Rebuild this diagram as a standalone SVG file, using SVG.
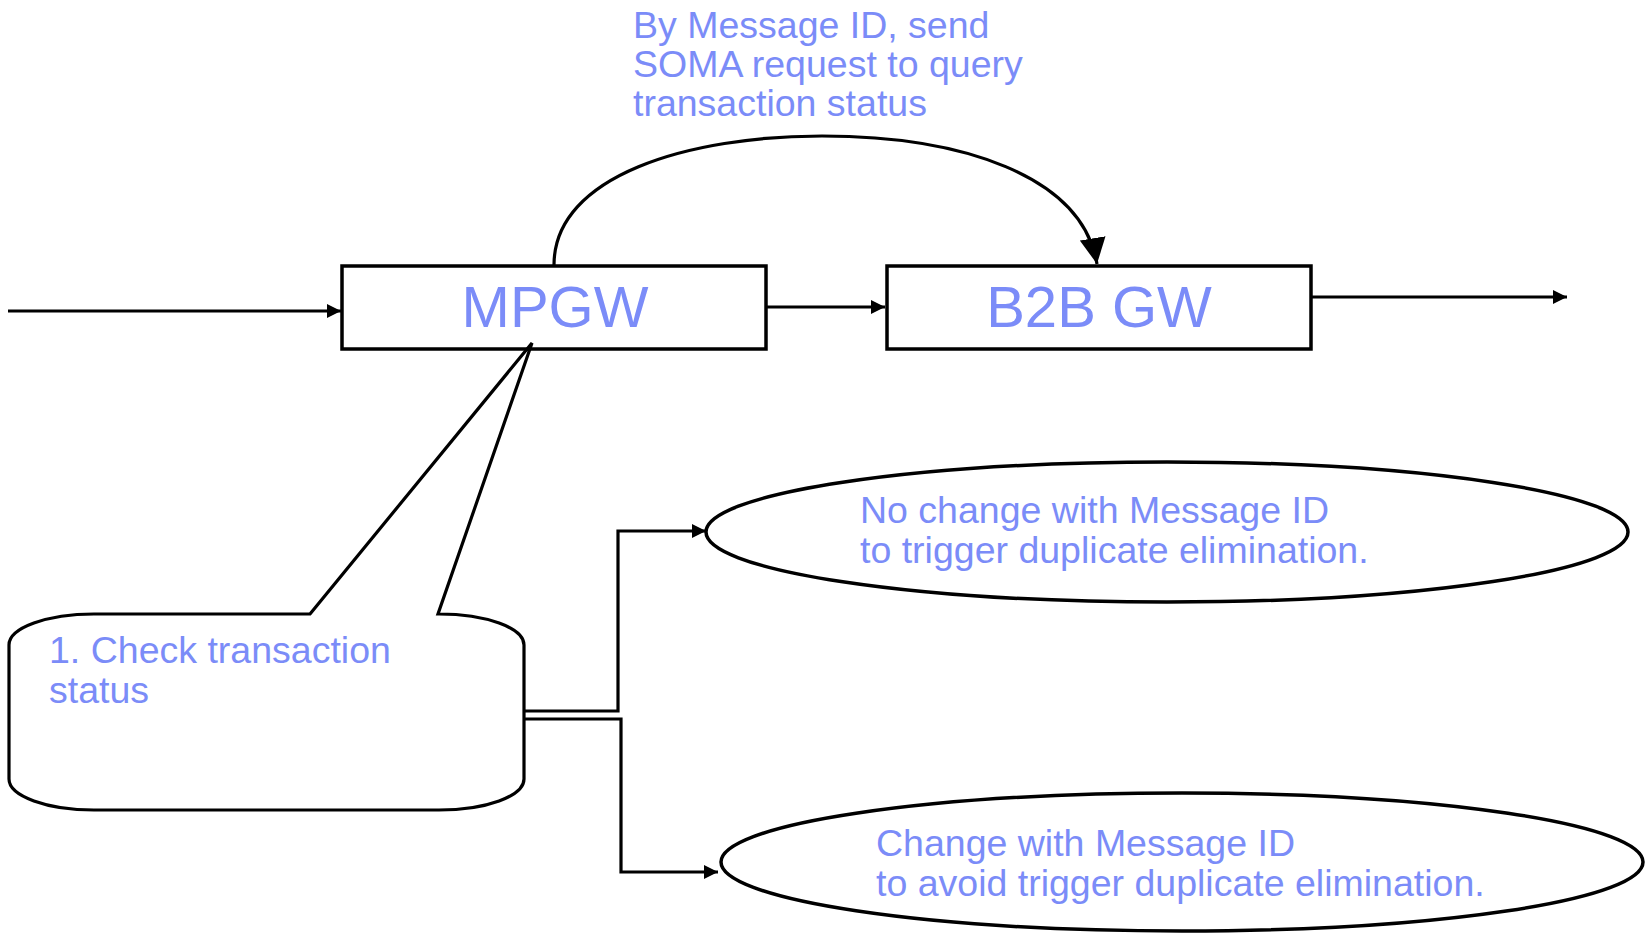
<svg xmlns="http://www.w3.org/2000/svg" width="1645" height="934" viewBox="0 0 1645 934">
<defs>
<style>
.box{fill:#fff;stroke:#000;stroke-width:3.5}
.ln{fill:none;stroke:#000;stroke-width:3.2}
.t{font-family:"Liberation Sans",Arial,sans-serif;fill:#7B8CF8}
</style>
<marker id="ah" markerWidth="14" markerHeight="14" refX="14" refY="7" orient="auto" markerUnits="userSpaceOnUse">
<path d="M0,0 L14,7 L0,14 Z" fill="#000"/>
</marker>
<marker id="ahb" markerWidth="26" markerHeight="26" refX="26" refY="13" orient="auto" markerUnits="userSpaceOnUse">
<path d="M0,0 L26,13 L0,26 Z" fill="#000"/>
</marker>
</defs>
<rect width="1645" height="934" fill="#fff"/>
<g id="connectors">
<path class="ln" d="M8,311 L341,311" marker-end="url(#ah)"/>
<path class="ln" d="M766,307 L885,307" marker-end="url(#ah)"/>
<path class="ln" d="M1311,297 L1567,297" marker-end="url(#ah)"/>
<path class="ln" d="M554,265 C554,175 690,136 822,136 C960,136 1082,175 1097,264" marker-end="url(#ahb)"/>
<path class="ln" d="M524,711 L618,711 L618,531 L706,531" marker-end="url(#ah)"/>
<path class="ln" d="M524,719 L621,719 L621,872 L718,872" marker-end="url(#ah)"/>
</g>
<g id="label-soma">
<text class="t" font-size="37.5"><tspan x="633" y="38">By Message ID, send</tspan><tspan x="633" y="77">SOMA request to query</tspan><tspan x="633" y="116">transaction status</tspan></text>
</g>
<g id="mpgw">
<rect class="box" x="342" y="266" width="424" height="83"/>
<text class="t" x="555" y="327" font-size="58" text-anchor="middle">MPGW</text>
</g>
<g id="b2bgw">
<rect class="box" x="887" y="266" width="424" height="83"/>
<text class="t" x="1099" y="327" font-size="58" text-anchor="middle">B2B GW</text>
</g>
<g id="callout">
<path class="ln" style="fill:#fff" d="M310,614 L532,343 L438,614 L439,614 A85,31 0 0 1 524,645 L524,779 A85,31 0 0 1 439,810 L94,810 A85,31 0 0 1 9,779 L9,645 A85,31 0 0 1 94,614 Z"/>
<text class="t" font-size="37.5"><tspan x="49" y="663">1. Check transaction</tspan><tspan x="49" y="703">status</tspan></text>
</g>
<g id="no-change">
<ellipse class="box" cx="1167" cy="532" rx="461" ry="70"/>
<text class="t" font-size="37.5"><tspan x="860" y="523">No change with Message ID</tspan><tspan x="860" y="563">to trigger duplicate elimination.</tspan></text>
</g>
<g id="change">
<ellipse class="box" cx="1182" cy="862" rx="461" ry="69"/>
<text class="t" font-size="37.5"><tspan x="876" y="856">Change with Message ID</tspan><tspan x="876" y="896">to avoid trigger duplicate elimination.</tspan></text>
</g>
</svg>
